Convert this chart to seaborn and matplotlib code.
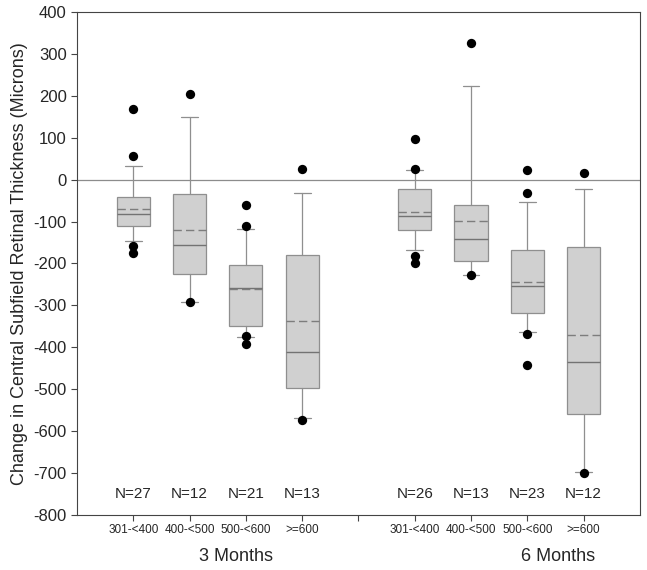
import matplotlib
matplotlib.use("Agg")
import matplotlib.pyplot as plt
import seaborn as sns
import numpy as np
import pandas as pd

# ---- data ----
groups = ["301-<400", "400-<500", "500-<600", ">=600",
          "301-<400", "400-<500", "500-<600", ">=600"]
periods = ["3 Months"] * 4 + ["6 Months"] * 4
positions = [1, 2, 3, 4, 6, 7, 8, 9]
n_labels = ["N=27", "N=12", "N=21", "N=13", "N=26", "N=13", "N=23", "N=12"]

whisk_lo = [-147, -292, -375, -568, -168, -228, -364, -698]
q1       = [-110, -226, -350, -498, -120, -194, -317, -560]
median   = [-83, -156, -258, -412, -86, -142, -254, -436]
mean     = [-69, -120, -262, -338, -76, -98, -244, -370]
q3       = [-41, -35, -203, -180, -23, -60, -168, -161]
whisk_hi = [32, 150, -118, -33, 22, 224, -54, -22]
outliers = [
    [168, 56, -158, -176],
    [205, -293],
    [-60, -110, -374, -391],
    [25, -573],
    [96, 25, -182, -200],
    [326, -228],
    [22, -33, -369, -441],
    [17, -700],
]

yticks = list(range(-800, 401, 100))

# ---- style ----
sns.set_style("ticks")
plt.rcParams["font.family"] = ["Liberation Sans", "DejaVu Sans"]

fig = plt.figure(figsize=(6.47, 5.70), dpi=100)
ax = fig.add_axes([0.119, 0.0965, 0.870, 0.8825])

stats = []
for i in range(len(groups)):
    stats.append(dict(label=groups[i], whislo=whisk_lo[i], q1=q1[i], med=median[i],
                      mean=mean[i], q3=q3[i], whishi=whisk_hi[i], fliers=[]))

edge = "#8f8f8f"
ax.bxp(stats, positions=positions, widths=0.59, patch_artist=True,
       showmeans=True, meanline=True, showfliers=False,
       boxprops=dict(facecolor="#d0d0d0", edgecolor=edge, linewidth=0.9),
       whiskerprops=dict(color=edge, linewidth=0.9),
       capprops=dict(color=edge, linewidth=0.9),
       medianprops=dict(color="#737373", linewidth=1.0, linestyle="-"),
       meanprops=dict(color="#7d7d7d", linewidth=1.0, linestyle=(0, (6, 3))),
       capwidths=0.30, zorder=2)

# outliers
fl_rows = []
for pos, vals in zip(positions, outliers):
    for v in vals:
        fl_rows.append({"x": pos, "y": v})
fl_df = pd.DataFrame(fl_rows)
sns.scatterplot(data=fl_df, x="x", y="y", ax=ax, color="black", s=45,
                edgecolor="black", linewidth=0, zorder=4, legend=False)

# zero line
ax.axhline(0, color="#8c8c8c", linewidth=0.9, zorder=1)

ax.set_xlim(0, 10)
ax.set_ylim(-800, 400)
ax.set_yticks(yticks)
ax.set_yticklabels([str(t) for t in yticks], fontsize=12)
ax.set_xticks([1, 2, 3, 4, 5, 6, 7, 8, 9])
ax.set_xticklabels(["", "", "", "", "", "", "", "", ""])
ax.tick_params(axis="both", direction="out", length=4, width=0.8, color="#444444")
ax.set_xlabel("")
ax.set_ylabel("Change in Central Subfield Retinal Thickness (Microns)", fontsize=13)
for s in ax.spines.values():
    s.set_color("#444444")
    s.set_linewidth(0.8)

# N labels
for pos, lab in zip(positions, n_labels):
    ax.text(pos, -750, lab, ha="center", va="center", fontsize=11)

# category labels below axis
trans = ax.get_xaxis_transform()
for pos, g in zip(positions, groups):
    ax.text(pos, -0.03, g, transform=trans, ha="center", va="center", fontsize=8.5)

ax.text(2.83, -0.082, "3 Months", transform=trans, ha="center", va="center", fontsize=13)
ax.text(8.54, -0.082, "6 Months", transform=trans, ha="center", va="center", fontsize=13)

fig.savefig("out.png", dpi=100)
